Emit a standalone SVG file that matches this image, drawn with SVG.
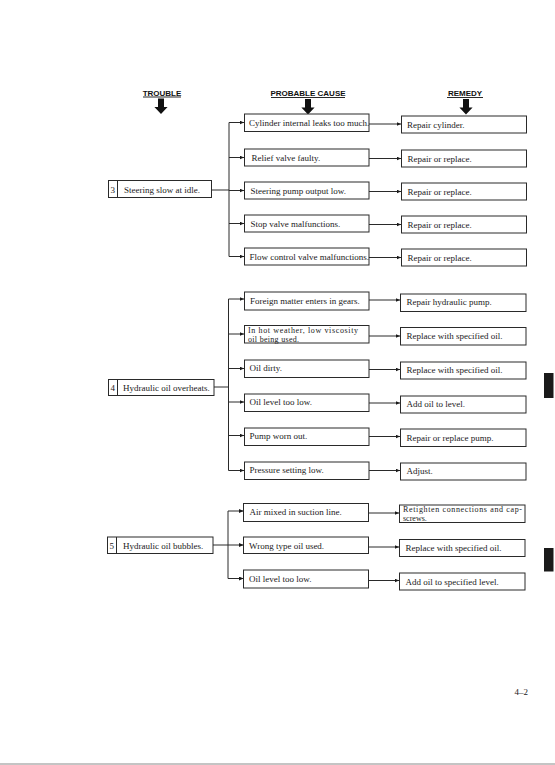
<svg xmlns="http://www.w3.org/2000/svg" width="555" height="765" viewBox="0 0 555 765">
<style>
.bg{fill:#ffffff}
.box{fill:#ffffff;stroke:#2a2a2a;stroke-width:1}
.t{font-family:"Liberation Serif","Times New Roman",serif;font-size:9px;fill:#1a1a1a}
.t2{font-family:"Liberation Serif","Times New Roman",serif;font-size:8px;fill:#1a1a1a}
.h{font-family:"Liberation Sans",Arial,sans-serif;font-size:8px;font-weight:bold;fill:#111}
.ul{stroke:#111;stroke-width:0.9}
.ln{fill:none;stroke:#2a2a2a;stroke-width:1}
.bigarrow{fill:#111}
.tab{fill:#1a1a1a}
</style>
<defs>
<marker id="ah" markerWidth="5" markerHeight="4" refX="4.5" refY="2" orient="auto" markerUnits="userSpaceOnUse">
<path d="M0,0 L4.5,2 L0,4 z" fill="#1a1a1a"/>
</marker>
<path id="dnarrow" d="M-3,0 h6 v8.5 h3.6 l-6.6,7 l-6.6,-7 h3.6 z"/>
</defs>
<rect class="bg" x="0" y="0" width="555" height="765"/>
<rect x="0" y="763" width="555" height="2" fill="#c4c4c4"/>

<g id="headers">
<text class="h" x="162" y="95.5" text-anchor="middle">TROUBLE</text>
<line class="ul" x1="143" y1="97" x2="181" y2="97"/>
<use href="#dnarrow" class="bigarrow" x="161" y="98.5"/>
<text class="h" x="308" y="96" text-anchor="middle">PROBABLE CAUSE</text>
<line class="ul" x1="271" y1="97.5" x2="345" y2="97.5"/>
<use href="#dnarrow" class="bigarrow" x="308" y="99"/>
<text class="h" x="465" y="96" text-anchor="middle">REMEDY</text>
<line class="ul" x1="447" y1="97.5" x2="483" y2="97.5"/>
<use href="#dnarrow" class="bigarrow" x="466" y="99"/>
</g>

<g id="connectors">
<line class="ln" x1="212" y1="190" x2="229" y2="190"/>
<line class="ln" x1="229" y1="122.5" x2="229" y2="256.5"/>
<line class="ln" x1="229" y1="122.5" x2="244" y2="122.5" marker-end="url(#ah)"/>
<line class="ln" x1="229" y1="157.5" x2="244" y2="157.5" marker-end="url(#ah)"/>
<line class="ln" x1="229" y1="190.5" x2="244" y2="190.5" marker-end="url(#ah)"/>
<line class="ln" x1="229" y1="223.5" x2="244" y2="223.5" marker-end="url(#ah)"/>
<line class="ln" x1="229" y1="256.5" x2="244" y2="256.5" marker-end="url(#ah)"/>
<line class="ln" x1="369" y1="124" x2="401" y2="124" marker-end="url(#ah)"/>
<line class="ln" x1="369" y1="158.5" x2="401" y2="158.5" marker-end="url(#ah)"/>
<line class="ln" x1="369" y1="191.5" x2="401" y2="191.5" marker-end="url(#ah)"/>
<line class="ln" x1="369" y1="224.5" x2="401" y2="224.5" marker-end="url(#ah)"/>
<line class="ln" x1="369" y1="257.5" x2="401" y2="257.5" marker-end="url(#ah)"/>
<line class="ln" x1="214" y1="387" x2="228.5" y2="387"/>
<line class="ln" x1="228.5" y1="299" x2="228.5" y2="470.5"/>
<line class="ln" x1="228.5" y1="299" x2="244" y2="299" marker-end="url(#ah)"/>
<line class="ln" x1="228.5" y1="334" x2="244" y2="334" marker-end="url(#ah)"/>
<line class="ln" x1="228.5" y1="368.5" x2="244" y2="368.5" marker-end="url(#ah)"/>
<line class="ln" x1="228.5" y1="402" x2="244" y2="402" marker-end="url(#ah)"/>
<line class="ln" x1="228.5" y1="435.5" x2="244" y2="435.5" marker-end="url(#ah)"/>
<line class="ln" x1="228.5" y1="470.5" x2="244" y2="470.5" marker-end="url(#ah)"/>
<line class="ln" x1="369" y1="300" x2="400" y2="300" marker-end="url(#ah)"/>
<line class="ln" x1="369" y1="336" x2="400" y2="336" marker-end="url(#ah)"/>
<line class="ln" x1="369" y1="369.5" x2="400" y2="369.5" marker-end="url(#ah)"/>
<line class="ln" x1="369" y1="403" x2="400" y2="403" marker-end="url(#ah)"/>
<line class="ln" x1="369" y1="436.5" x2="400" y2="436.5" marker-end="url(#ah)"/>
<line class="ln" x1="369" y1="470.5" x2="400" y2="470.5" marker-end="url(#ah)"/>
<line class="ln" x1="213" y1="545" x2="228" y2="545"/>
<line class="ln" x1="228" y1="511" x2="228" y2="578.5"/>
<line class="ln" x1="228" y1="511" x2="243.5" y2="511" marker-end="url(#ah)"/>
<line class="ln" x1="228" y1="545" x2="243.5" y2="545" marker-end="url(#ah)"/>
<line class="ln" x1="228" y1="578.5" x2="243.5" y2="578.5" marker-end="url(#ah)"/>
<line class="ln" x1="368.5" y1="513" x2="399" y2="513" marker-end="url(#ah)"/>
<line class="ln" x1="368.5" y1="547" x2="399" y2="547" marker-end="url(#ah)"/>
<line class="ln" x1="368.5" y1="580.5" x2="399" y2="580.5" marker-end="url(#ah)"/>
</g>

<g id="trouble3">
<rect class="box" x="108.5" y="180.5" width="103" height="17"/>
<line class="ln" x1="117.5" y1="180.5" x2="117.5" y2="197.5"/>
<text class="t" x="110.5" y="192.5">3</text>
<text class="t" x="124" y="192.5">Steering slow at idle.</text>
</g>
<g id="c3a"><rect class="box" x="244.5" y="114" width="124.5" height="17.5"/><text class="t" x="249" y="125.5">Cylinder internal leaks too much.</text></g>
<g id="c3b"><rect class="box" x="244.5" y="149" width="124.5" height="17"/><text class="t" x="251.5" y="160.5">Relief valve faulty.</text></g>
<g id="c3c"><rect class="box" x="244.5" y="182" width="124.5" height="17"/><text class="t" x="250.5" y="193.5">Steering pump output low.</text></g>
<g id="c3d"><rect class="box" x="244.5" y="215" width="124.5" height="17"/><text class="t" x="250.5" y="226.5">Stop valve malfunctions.</text></g>
<g id="c3e"><rect class="box" x="244.5" y="248" width="124.5" height="17"/><text class="t" x="249.5" y="259.5">Flow control valve malfunctions.</text></g>
<g id="r3a"><rect class="box" x="401.5" y="116" width="125" height="17"/><text class="t" x="407" y="127.5">Repair cylinder.</text></g>
<g id="r3b"><rect class="box" x="401.5" y="150" width="125" height="17"/><text class="t" x="407.5" y="161.5">Repair or replace.</text></g>
<g id="r3c"><rect class="box" x="401.5" y="183" width="125" height="17"/><text class="t" x="407.5" y="194.5">Repair or replace.</text></g>
<g id="r3d"><rect class="box" x="401.5" y="216" width="125" height="17"/><text class="t" x="407.5" y="227.5">Repair or replace.</text></g>
<g id="r3e"><rect class="box" x="401.5" y="249" width="125" height="17"/><text class="t" x="407.5" y="260.5">Repair or replace.</text></g>

<g id="trouble4">
<rect class="box" x="108.5" y="379.5" width="105.5" height="16"/>
<line class="ln" x1="117.5" y1="379.5" x2="117.5" y2="395.5"/>
<text class="t" x="110.5" y="391">4</text>
<text class="t" x="123" y="391">Hydraulic oil overheats.</text>
</g>
<g id="c4a"><rect class="box" x="244.5" y="292" width="124.5" height="18"/><text class="t" x="250" y="303.5">Foreign matter enters in gears.</text></g>
<g id="c4b"><rect class="box" x="244.5" y="325.5" width="124.5" height="17.5"/><text class="t2" x="248" y="332.5" textLength="110" lengthAdjust="spacing">In hot weather, low viscosity</text><text class="t2" x="248" y="341.5" letter-spacing="0.3">oil being used.</text></g>
<g id="c4c"><rect class="box" x="244.5" y="360" width="124.5" height="17.5"/><text class="t" x="249.5" y="371">Oil dirty.</text></g>
<g id="c4d"><rect class="box" x="244.5" y="394" width="124.5" height="17.5"/><text class="t" x="249.5" y="405">Oil level too low.</text></g>
<g id="c4e"><rect class="box" x="244.5" y="428" width="124.5" height="17.5"/><text class="t" x="249.5" y="439">Pump worn out.</text></g>
<g id="c4f"><rect class="box" x="244.5" y="462" width="124.5" height="17.5"/><text class="t" x="249.5" y="473">Pressure setting low.</text></g>
<g id="r4a"><rect class="box" x="400.5" y="294" width="125.5" height="17.5"/><text class="t" x="406.5" y="305">Repair hydraulic pump.</text></g>
<g id="r4b"><rect class="box" x="400.5" y="327.5" width="125.5" height="17.5"/><text class="t" x="406.5" y="339">Replace with specified oil.</text></g>
<g id="r4c"><rect class="box" x="400.5" y="362" width="125.5" height="17"/><text class="t" x="406.5" y="373">Replace with specified oil.</text></g>
<g id="r4d"><rect class="box" x="400.5" y="396" width="125.5" height="17"/><text class="t" x="406.5" y="407">Add oil to level.</text></g>
<g id="r4e"><rect class="box" x="400.5" y="429" width="125.5" height="17.5"/><text class="t" x="406.5" y="440.5">Repair or replace pump.</text></g>
<g id="r4f"><rect class="box" x="400.5" y="463" width="125.5" height="17"/><text class="t" x="406.5" y="474">Adjust.</text></g>

<g id="trouble5">
<rect class="box" x="107.5" y="537" width="105.5" height="16.5"/>
<line class="ln" x1="116.5" y1="537" x2="116.5" y2="553.5"/>
<text class="t" x="109.5" y="548.5">5</text>
<text class="t" x="123" y="548.5">Hydraulic oil bubbles.</text>
</g>
<g id="c5a"><rect class="box" x="243.5" y="503.5" width="125" height="18"/><text class="t" x="249.5" y="515">Air mixed in suction line.</text></g>
<g id="c5b"><rect class="box" x="243.5" y="537" width="125" height="16.5"/><text class="t" x="249" y="548.5">Wrong type oil used.</text></g>
<g id="c5c"><rect class="box" x="243.5" y="570" width="125" height="18"/><text class="t" x="249" y="581.5">Oil level too low.</text></g>
<g id="r5a"><rect class="box" x="399.5" y="505" width="125.5" height="17.5"/><text class="t2" x="403" y="511.5" textLength="119" lengthAdjust="spacing">Retighten connections and cap-</text><text class="t2" x="403" y="520.5">screws.</text></g>
<g id="r5b"><rect class="box" x="399.5" y="539.5" width="125.5" height="17"/><text class="t" x="405.5" y="550.5">Replace with specified oil.</text></g>
<g id="r5c"><rect class="box" x="399.5" y="573" width="125.5" height="17"/><text class="t" x="405.5" y="584.5">Add oil to specified level.</text></g>

<rect class="tab" x="544" y="373" width="9.5" height="25"/>
<rect class="tab" x="544" y="548" width="9.5" height="23.5"/>
<text class="t" x="528" y="694.5" text-anchor="end">4–2</text>
</svg>
